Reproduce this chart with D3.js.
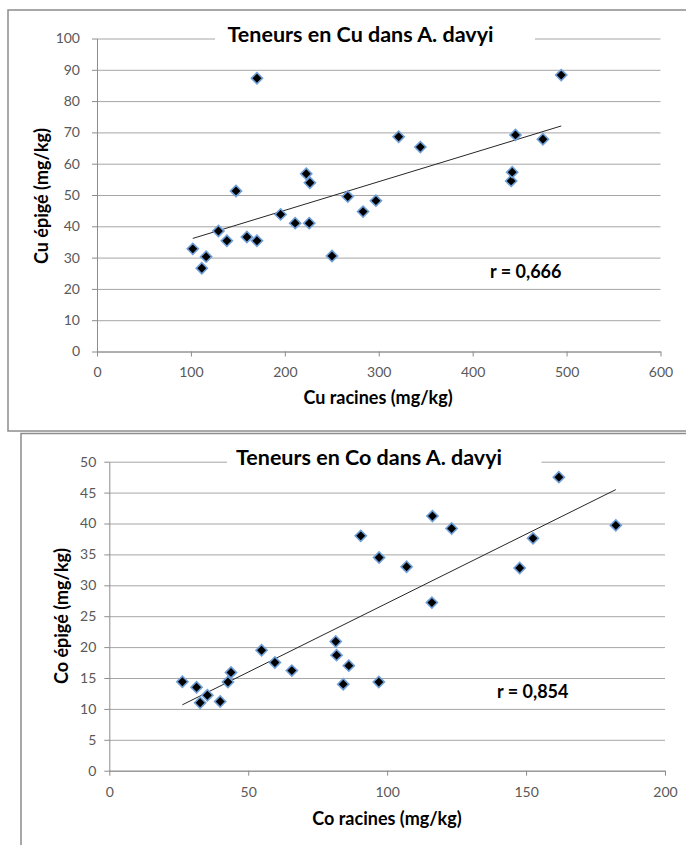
<!DOCTYPE html>
<html><head><meta charset="utf-8">
<script src="https://cdn.jsdelivr.net/npm/d3@7"></script>
<style>
html,body{margin:0;padding:0;background:#fff;}
svg{display:block;font-family:Lato,"Open Sans",sans-serif;}
</style></head>
<body>
<svg id="c" width="686" height="845"></svg>
<script>
// ---- Data: Cu chart ----
const cuRacines = [102,111.6,116.2,129.3,138.3,148,159.6,170.3,170.3,195.5,211,226,222.8,226.7,250.2,267,283.3,297,321.2,344.3,441,442.1,445.6,474.8,494.3];
const cuEpige   = [32.8,26.6,30.3,38.5,35.4,51.3,36.6,35.4,87.3,43.8,41,41,56.8,53.9,30.5,49.5,44.7,48.2,68.6,65.3,54.5,57.3,69.2,67.8,88.3];
const cuXTicks = [0,100,200,300,400,500,600];
const cuYTicks = [0,10,20,30,40,50,60,70,80,90,100];
const cuR = "r = 0,666";

// ---- Data: Co chart ----
const coRacines = [26.3,31.4,32.7,35.3,39.9,42.7,43.8,54.8,59.6,65.7,81.5,81.8,84.2,86.2,90.5,97,97.1,107,116.1,116.3,123.2,147.7,152.5,161.8,182.3];
const coEpige   = [14.4,13.5,11,12.2,11.2,14.35,15.9,19.5,17.5,16.2,20.9,18.7,14.0,17.0,38.0,14.35,34.5,33,27.2,41.2,39.2,32.8,37.6,47.5,39.7];
const coXTicks = [0,50,100,150,200];
const coYTicks = [0,5,10,15,20,25,30,35,40,45,50];
const coR = "r = 0,854";

const svg = d3.select("#c");

// frames
svg.append("rect").attr("x",8).attr("y",10).attr("width",700).attr("height",421)
  .attr("fill","#fff").attr("stroke","#8c8c8c").attr("stroke-width",1.5);
svg.append("rect").attr("x",21).attr("y",433.5).attr("width",700).attr("height",430)
  .attr("fill","#fff").attr("stroke","#8c8c8c").attr("stroke-width",1.5);

function regression(xs, ys){
  const n = xs.length, mx = d3.mean(xs), my = d3.mean(ys);
  let sxy=0, sxx=0;
  for(let i=0;i<n;i++){ sxy+=(xs[i]-mx)*(ys[i]-my); sxx+=(xs[i]-mx)**2; }
  const b = sxy/sxx; return {a: my-b*mx, b};
}

function chart(cfg){
  const x = d3.scaleLinear().domain(cfg.xDom).range(cfg.xRange);
  const y = d3.scaleLinear().domain(cfg.yDom).range(cfg.yRange);
  const g = svg.append("g");

  // gridlines
  g.append("g").attr("transform",`translate(${cfg.xRange[0]},0)`)
    .call(d3.axisLeft(y).tickValues(cfg.yTicks).tickSize(-(cfg.xRange[1]-cfg.xRange[0])).tickFormat(""))
    .call(s=>s.select(".domain").remove())
    .call(s=>s.selectAll("line").attr("stroke","#a6a6a6").attr("stroke-width",1));

  // y axis
  const ya = g.append("g").attr("transform",`translate(${cfg.xRange[0]},0)`)
    .call(d3.axisLeft(y).tickValues(cfg.yTicks).tickSize(5).tickPadding(cfg.yPad).tickSizeOuter(0));
  ya.select(".domain").attr("stroke","#8c8c8c");
  ya.selectAll(".tick line").attr("stroke","#8c8c8c");
  ya.selectAll("text").attr("fill","#595959").attr("font-size",14).attr("font-family","Lato");

  // x axis
  const xa = g.append("g").attr("transform",`translate(0,${cfg.yRange[0]})`)
    .call(d3.axisBottom(x).tickValues(cfg.xTicks).tickSize(5).tickPadding(11).tickSizeOuter(0));
  xa.select(".domain").attr("stroke","#8c8c8c");
  xa.selectAll(".tick line").attr("stroke","#8c8c8c");
  xa.selectAll("text").attr("fill","#595959").attr("font-size",14).attr("font-family","Lato");

  // title with white background
  g.append("rect").attr("x",cfg.titleBg[0]).attr("y",cfg.yRange[1]-8)
    .attr("width",cfg.titleBg[1]-cfg.titleBg[0]).attr("height",16).attr("fill","#fff");
  g.append("text").attr("x",cfg.titleX).attr("y",cfg.titleY).attr("text-anchor","middle")
    .attr("font-weight","bold").attr("font-size",21.5).attr("fill","#000").text(cfg.title);

  // axis titles
  g.append("text").attr("x",cfg.xLabelX).attr("y",cfg.xLabelY).attr("text-anchor","middle")
    .attr("font-weight","bold").attr("font-size",18).attr("fill","#000").text(cfg.xLabel);
  g.append("text").attr("transform",`translate(${cfg.yLabelX},${cfg.yLabelY}) rotate(-90)`)
    .attr("text-anchor","middle").attr("font-weight","bold").attr("font-size",18).attr("fill","#000").text(cfg.yLabel);

  // trend line
  const r = regression(cfg.xs, cfg.ys);
  const x0 = d3.min(cfg.xs), x1 = d3.max(cfg.xs);
  g.append("line").attr("x1",x(x0)).attr("y1",y(r.a+r.b*x0)).attr("x2",x(x1)).attr("y2",y(r.a+r.b*x1))
    .attr("stroke","#262626").attr("stroke-width",1);

  // markers
  const sym = d3.symbol().type(d3.symbolSquare).size(62);
  g.append("g").selectAll("path").data(cfg.xs.map((v,i)=>[v,cfg.ys[i]])).join("path")
    .attr("d",sym).attr("transform",d=>`translate(${x(d[0])},${y(d[1])}) rotate(45)`)
    .attr("fill","#000").attr("stroke","#6f9fd8").attr("stroke-width",1.6);

  // r label
  g.append("text").attr("x",cfg.rX).attr("y",cfg.rY).attr("font-weight","bold")
    .attr("font-size",18).attr("fill","#000").text(cfg.r);
}

chart({
  xs: cuRacines, ys: cuEpige, xDom:[0,600], yDom:[0,100],
  xRange:[97,660.5], yRange:[351.5,38.5], xTicks: cuXTicks, yTicks: cuYTicks, yPad: 12,
  title:"Teneurs en Cu dans A. davyi", titleX:360.5, titleY:42, titleBg:[215,535],
  xLabel:"Cu racines (mg/kg)", xLabelX:378, xLabelY:404,
  yLabel:"Cu épigé (mg/kg)", yLabelX:48, yLabelY:196,
  r: cuR, rX:490, rY:277.5
});

chart({
  xs: coRacines, ys: coEpige, xDom:[0,200], yDom:[0,50],
  xRange:[109.3,665], yRange:[770.7,461.7], xTicks: coXTicks, yTicks: coYTicks, yPad: 8,
  title:"Teneurs en Co dans A. davyi", titleX:369, titleY:465, titleBg:[227,541.5],
  xLabel:"Co racines (mg/kg)", xLabelX:387, xLabelY:825,
  yLabel:"Co épigé (mg/kg)", yLabelX:68, yLabelY:616,
  r: coR, rX:497, rY:698
});
</script>
</body></html>
